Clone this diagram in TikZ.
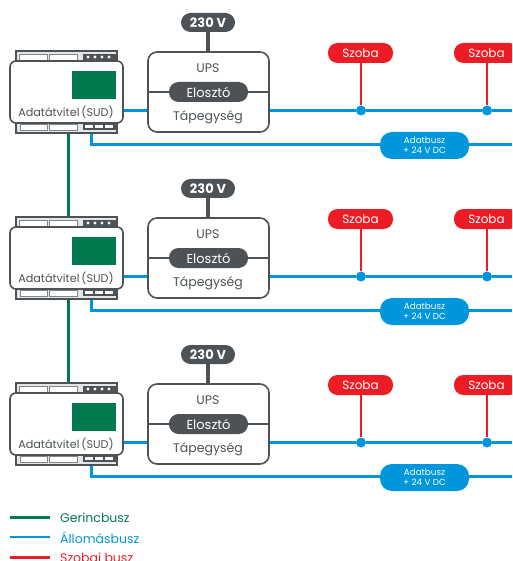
\documentclass[tikz,border=0pt]{standalone}
\usepackage{fontspec}
\setmainfont{Poppins}
\usetikzlibrary{calc}
\definecolor{gerinc}{HTML}{007A4C}
\definecolor{allomas}{HTML}{0096DC}
\definecolor{szobai}{HTML}{ED1C24}
\definecolor{sotet}{HTML}{4C5256}
\tikzset{
	pill/.style={rounded corners=9.5pt,fill=sotet,text=white,inner sep=0pt},
	szobapill/.style={rounded corners=9.5pt,fill=szobai,text=white,inner sep=0pt,minimum width=65pt,minimum height=20pt,font=\fontsize{12}{12}\selectfont},
	keret/.style={draw=sotet,line width=1.6pt,fill=white,inner sep=0pt},
	resz/.style={draw=sotet!70,line width=0.7pt,fill=white},
	gerincvonal/.style={draw=gerinc,line width=2.8pt},
	allomasvonal/.style={draw=allomas,line width=2.8pt},
	szobaivonal/.style={draw=szobai,line width=2.8pt},
	felirat/.style={text=sotet,font=\fontsize{12.5}{12}\selectfont,inner sep=0pt}
}
\begin{document}
\begin{tikzpicture}[x=1pt,y=-1pt]
	\useasboundingbox (0,0) rectangle (512,561);
	\clip (0,0) rectangle (512,561);
	\foreach \r/\dy in {1/0,2/166,3/332}{
		\begin{scope}[yshift=-\dy pt]
			% DIN rail module
			\node[keret,fill=sotet!15,minimum width=101pt,minimum height=82pt] (rail\r) at (66.5,92) {};
			\draw[resz] (19,54) rectangle (47,60);
			\draw[resz] (49,54) rectangle (77,60);
			\fill[sotet] (83,54) rectangle (116,60);
			\foreach \x in {88,95,102,109}
				\fill[white] (\x,57) circle (1.7);
			\draw[resz] (20,124) rectangle (47,130);
			\draw[resz] (49,124) rectangle (77,130);
			\fill[sotet] (83,123) rectangle (116,130);
			\foreach \x in {85,95,105}
				\fill[white] (\x,125) rectangle ++(8,3);
			\node[keret,rounded corners=6pt,minimum width=113pt,minimum height=62pt] (sud\r) at (66.5,92) {};
			\node[fill=gerinc,inner sep=0pt,minimum width=44pt,minimum height=28pt] (kijelzo\r) at (94,85) {};
			\node[felirat,font=\fontsize{11.2}{11}\selectfont] (sudnev\r) at (66,112) {Adatátvitel\hspace{2pt}(SUD)};

			% UPS
			\node[keret,rounded corners=9pt,minimum width=121pt,minimum height=80pt] (ups\r) at (208.5,92) {};
			\node[felirat] (upsnev\r) at (208,68) {UPS};
			\node[felirat] (tap\r) at (208,117) {Tápegység};
			\node[pill,minimum width=79pt,minimum height=20pt,font=\fontsize{13}{13}\selectfont] (eloszto\r) at (208.5,92) {Elosztó};
			\draw[sotet,line width=1.2pt] (ups\r.west) -- (eloszto\r.west);
			\draw[sotet,line width=1.2pt] (eloszto\r.east) -- (ups\r.east);
			\node[pill,minimum width=54pt,minimum height=19pt,font=\fontsize{13}{13}\bfseries\selectfont] (volt\r) at (208,22.5) {230 V};
			\draw[sotet,line width=3.2pt] (volt\r.south) -- (ups\r.north -| volt\r.south);

			% busses
			\node[szobapill] (szoba\r a) at (360.5,53) {Szoba};
			\node[szobapill] (szoba\r b) at (486.5,53) {Szoba};
			\node[circle,fill=allomas,inner sep=0pt,minimum size=10pt] (pont\r a) at (361,110.5) {};
			\node[circle,fill=allomas,inner sep=0pt,minimum size=10pt] (pont\r b) at (487,110.5) {};
			\node[fill=allomas,text=white,rounded corners=12pt,inner sep=0pt,minimum width=89pt,minimum height=27pt,align=center,font=\fontsize{8.8}{9.5}\selectfont] (adat\r) at (424.5,145.5) {Adatbusz\\+ 24 V DC};
			\coordinate (ki\r) at (512,110.5);
			\coordinate (be\r) at (sud\r.east |- ki\r);
			\coordinate (busz\r) at (91.5,144.5);
			\coordinate (vege\r) at (512,144.5);
			\draw[szobaivonal] (szoba\r a.south -| pont\r a) -- (pont\r a);
			\draw[szobaivonal] (szoba\r b.south -| pont\r b) -- (pont\r b);
			\draw[allomasvonal] (be\r) -- (ups\r.west |- ki\r);
			\draw[allomasvonal] (ups\r.east |- ki\r) -- (pont\r a) -- (pont\r b) -- (ki\r);
			\draw[allomasvonal] (rail\r.south -| busz\r) -- (busz\r) -- (adat\r.west |- busz\r);
			\draw[allomasvonal] (adat\r.east |- busz\r) -- (vege\r);
		\end{scope}
	}
	% backbone
	\draw[gerincvonal] ($(rail1.south)+(2,0)$) -- ($(rail2.north)+(2,0)$);
	\draw[gerincvonal] ($(rail2.south)+(2,0)$) -- ($(rail3.north)+(2,0)$);

	% legend
	\coordinate (ger1) at (10,517.5);
	\coordinate (ger2) at (50,517.5);
	\coordinate (all1) at (10,537);
	\coordinate (all2) at (50,537);
	\coordinate (szo1) at (10,557.5);
	\coordinate (szo2) at (50,557.5);
	\draw[gerincvonal] (ger1) -- (ger2);
	\draw[allomasvonal] (all1) -- (all2);
	\draw[szobaivonal] (szo1) -- (szo2);
	\node[anchor=west,inner sep=0pt,text=gerinc,font=\fontsize{12.5}{12}\selectfont] (gerincnev) at (60,518) {Gerincbusz};
	\node[anchor=west,inner sep=0pt,text=allomas,font=\fontsize{12.5}{12}\selectfont] (allomasnev) at (60,537.5) {Állomásbusz};
	\node[anchor=west,inner sep=0pt,text=szobai,font=\fontsize{12.5}{12}\selectfont] (szobainev) at (60,557.5) {Szobai busz};
\end{tikzpicture}
\end{document}
